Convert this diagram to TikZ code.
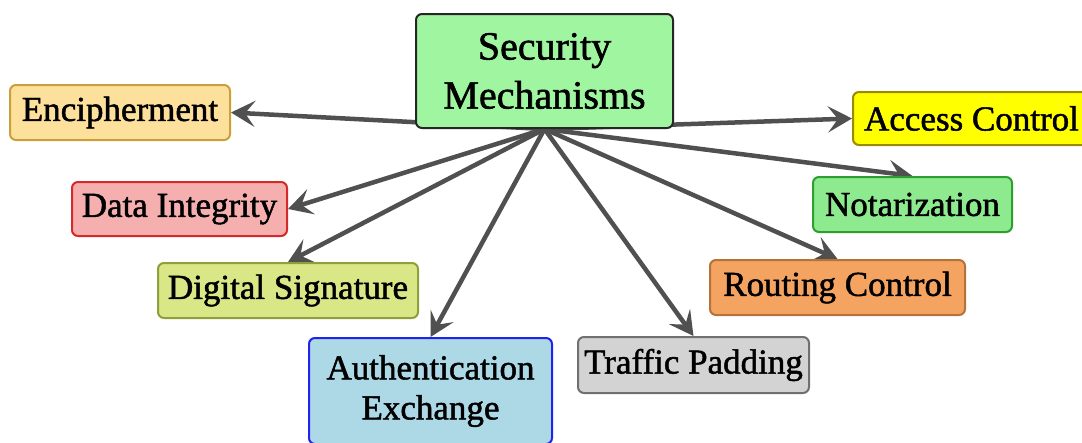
\documentclass[tikz,border=0pt]{standalone}
\usepackage{fontspec}
\setmainfont{Liberation Serif}
\newfontfamily\labelfont{Liberation Serif}[FakeBold=1.4]
\usetikzlibrary{arrows.meta,backgrounds}

\definecolor{smfill}{HTML}{A0F5A0}
\definecolor{encfill}{HTML}{FCE09B}
\definecolor{encline}{HTML}{C9A13A}
\definecolor{difill}{HTML}{F5AFAF}
\definecolor{diline}{HTML}{D42A2A}
\definecolor{dsfill}{HTML}{D9E786}
\definecolor{dsline}{HTML}{8FA03A}
\definecolor{acfill}{HTML}{FFFF00}
\definecolor{acline}{HTML}{9A8A00}
\definecolor{nofill}{HTML}{8EEA8E}
\definecolor{noline}{HTML}{2E9E2E}
\definecolor{rcfill}{HTML}{F4A460}
\definecolor{rcline}{HTML}{B4733A}
\definecolor{aefill}{HTML}{ADD8E6}
\definecolor{aeline}{HTML}{2222EE}
\definecolor{tpfill}{HTML}{D3D3D3}
\definecolor{tpline}{HTML}{707070}
\definecolor{arrowgray}{HTML}{505050}

\tikzset{
  mech/.style={draw, rounded corners=6pt, line width=2pt, inner sep=0pt,
    align=center, text=black, font=\labelfont\fontsize{35}{40}\selectfont},
  hub/.style={mech, draw=black!85, fill=smfill,
    font=\labelfont\fontsize{40}{49}\selectfont},
  link/.style={draw=arrowgray, line width=4.5pt,
    -{Stealth[length=24pt,width=26pt,inset=10pt]}},
}

\begin{document}
\begin{tikzpicture}[x=1pt,y=-1pt]
  \useasboundingbox (0,0) rectangle (1082,442);

  % central concept
  \node[hub, minimum width=257pt, minimum height=114pt] (sm) at (544.5,71)
    {Security\\Mechanisms};

  % mechanisms on the left
  \node[mech, fill=encfill, draw=encline, minimum width=220pt, minimum height=55pt]
    (enc) at (120,112.5) {Encipherment};
  \node[mech, fill=difill, draw=diline, minimum width=215pt, minimum height=54pt]
    (di) at (179.5,209) {Data Integrity};
  \node[mech, fill=dsfill, draw=dsline, minimum width=260pt, minimum height=55pt]
    (ds) at (288,290.5) {Digital Signature};

  % mechanisms at the bottom
  \node[mech, fill=aefill, draw=aeline, minimum width=243pt, minimum height=106pt]
    (ae) at (430.5,391) {Authentication\\Exchange};
  \node[mech, fill=tpfill, draw=tpline, minimum width=231pt, minimum height=56pt]
    (tp) at (693.5,365) {Traffic Padding};

  % mechanisms on the right
  \node[mech, fill=rcfill, draw=rcline, minimum width=255pt, minimum height=55pt]
    (rc) at (837.5,287.5) {Routing Control};
  \node[mech, fill=nofill, draw=noline, minimum width=199pt, minimum height=55pt]
    (no) at (912.5,204.5) {Notarization};
  \node[mech, fill=acfill, draw=acline, minimum width=237pt, minimum height=53pt]
    (ac) at (971.5,118.5) {Access Control};

  % connectors fan out from under the central box
  \begin{scope}[on background layer]
    \fill[white] (0,0) rectangle (1082,442);
    \draw[link] (sm.south) -- (enc.east);
    \draw[link] (sm.south) -- (di.east);
    \draw[link] (sm.south) -- (ds.north);
    \draw[link] (sm.south) -- (ae.north);
    \draw[link] (sm.south) -- (tp.north);
    \draw[link] (sm.south) -- (rc.north);
    \draw[link] (sm.south) -- (no.north);
    \draw[link] (sm.south) -- (ac.west);
  \end{scope}
\end{tikzpicture}
\end{document}
